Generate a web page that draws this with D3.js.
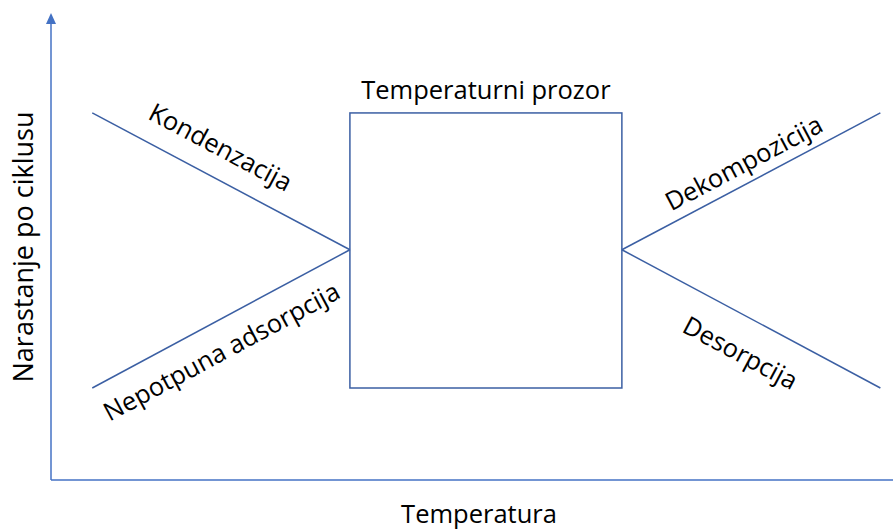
<!DOCTYPE html>
<html>
<head>
<meta charset="utf-8">
<script src="https://cdn.jsdelivr.net/npm/d3@7"></script>
<style>
  body { margin: 0; background: #fff; }
  text { font-family: "Open Sans", "Noto Sans", sans-serif; fill: #000; }
</style>
</head>
<body>
<svg id="chart" width="894" height="529"></svg>
<script>
// Schematic values (arbitrary units, 0..100 on both axes)
var windowX = [35.5, 67.8];          // temperature window, left / right
var windowY = [19.7, 78.6];          // growth band, low / high
var midGrowth = 49.3;                // constant growth inside the window
var edgeLow = 4.9, edgeHigh = 98.5;  // outer ends of the side lines

// Side regions: [x0, y0, x1, y1]
var segments = [
    { name: 'Kondenzacija',         pts: [edgeLow, windowY[1], windowX[0], midGrowth] },
    { name: 'Nepotpuna adsorpcija', pts: [edgeLow, windowY[0], windowX[0], midGrowth] },
    { name: 'Dekompozicija',        pts: [windowX[1], midGrowth, edgeHigh, windowY[1]] },
    { name: 'Desorpcija',           pts: [windowX[1], midGrowth, edgeHigh, windowY[0]] }
];

// Label placement along each segment (fraction along, offset in y units)
var labelPos = [
    { t: 0.5,  dy: 7.5 },
    { t: 0.5,  dy: -6.8 },
    { t: 0.47, dy: 5.0 },
    { t: 0.46, dy: -8.3 }
];

var axisTitles = { x: 'Temperatura', y: 'Narastanje po ciklusu', box: 'Temperaturni prozor' };

var svg = d3.select('#chart');
var x = d3.scaleLinear().domain([0, 100]).range([51, 893]);
var y = d3.scaleLinear().domain([0, 100]).range([480, 13]);

var axisColour = '#4472C4';
var lineColour = '#3B5FA3';
var fontSize = 25.5;

// Axes
svg.append('line')
    .attr('x1', x(0)).attr('y1', y(0))
    .attr('x2', x(0)).attr('y2', y(100) + 8)
    .attr('stroke', axisColour).attr('stroke-width', 1.5);
svg.append('line')
    .attr('x1', x(0)).attr('y1', y(0))
    .attr('x2', x(100)).attr('y2', y(0))
    .attr('stroke', axisColour).attr('stroke-width', 1.5);
// Arrow head on y axis
svg.append('path')
    .attr('d', 'M' + x(0) + ',' + y(100) + 'l-5,11l10,0z')
    .attr('fill', axisColour);

// Temperature window box
svg.append('rect')
    .attr('x', x(windowX[0]))
    .attr('y', y(windowY[1]))
    .attr('width', x(windowX[1]) - x(windowX[0]))
    .attr('height', y(windowY[0]) - y(windowY[1]))
    .attr('fill', 'none')
    .attr('stroke', lineColour)
    .attr('stroke-width', 1.5);

svg.append('text')
    .attr('x', (x(windowX[0]) + x(windowX[1])) / 2)
    .attr('y', y(windowY[1]) - 14)
    .attr('text-anchor', 'middle')
    .attr('font-size', fontSize)
    .text(axisTitles.box);

// Side lines and their labels
segments.forEach(function (s, i) {
    var p = s.pts;
    svg.append('line')
        .attr('x1', x(p[0])).attr('y1', y(p[1]))
        .attr('x2', x(p[2])).attr('y2', y(p[3]))
        .attr('stroke', lineColour)
        .attr('stroke-width', 1.5);

    var px0 = x(p[0]), py0 = y(p[1]), px1 = x(p[2]), py1 = y(p[3]);
    var angle = Math.atan2(py1 - py0, px1 - px0) * 180 / Math.PI;
    var lp = labelPos[i];
    var cx = x(p[0] + (p[2] - p[0]) * lp.t);
    var cy = y(p[1] + (p[3] - p[1]) * lp.t + lp.dy);

    svg.append('text')
        .attr('transform', 'translate(' + cx + ',' + cy + ') rotate(' + angle + ')')
        .attr('text-anchor', 'middle')
        .attr('dominant-baseline', 'central')
        .attr('font-size', fontSize)
        .text(s.name);
});

// Axis titles
svg.append('text')
    .attr('x', 479)
    .attr('y', 523)
    .attr('text-anchor', 'middle')
    .attr('font-size', fontSize)
    .text(axisTitles.x);

svg.append('text')
    .attr('transform', 'translate(33,' + 247 + ') rotate(-90)')
    .attr('text-anchor', 'middle')
    .attr('font-size', 27)
    .text(axisTitles.y);
</script>
</body>
</html>
